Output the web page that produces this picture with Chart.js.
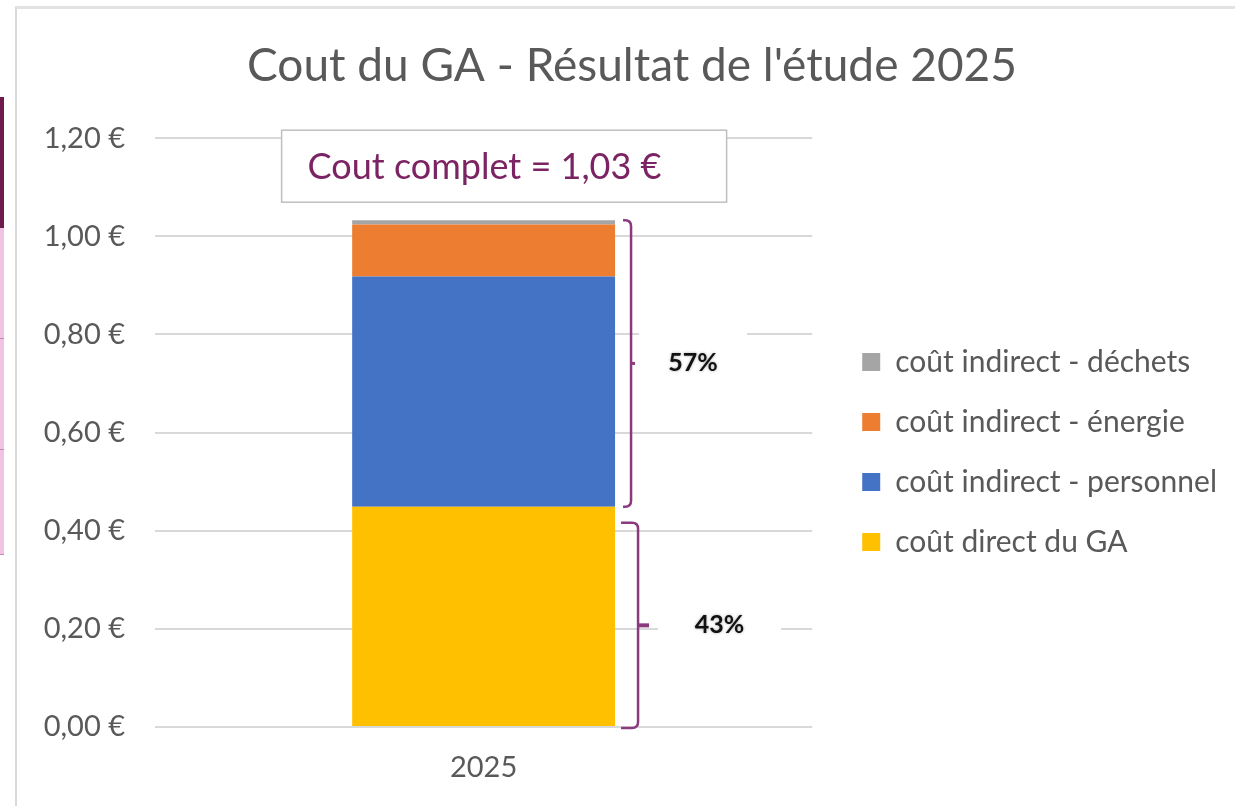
<!DOCTYPE html>
<html><head><meta charset="utf-8">
<script src="https://cdn.jsdelivr.net/npm/chart.js@4.4.1/dist/chart.umd.min.js"></script>
<style>
html,body{margin:0;padding:0;background:#fff;overflow:hidden;width:1235px;height:806px;}
#frame{position:absolute;left:15px;top:6px;width:1400px;height:900px;border-left:2px solid #d9d9d9;border-top:3px solid #e2e2e2;}
.strip{position:absolute;left:0;width:4px;}
.sline{position:absolute;left:0;width:4px;height:1px;background:#c88ab4;}
#wrap{position:absolute;left:0;top:0;width:1300px;height:806px;}
</style></head><body>
<div id="frame"></div>
<div class="strip" style="top:97px;height:131px;background:#6e1a4c"></div>
<div class="strip" style="top:228px;height:327px;background:#f1c3e3"></div>
<div class="sline" style="top:338px"></div>
<div class="sline" style="top:449px"></div>
<div class="sline" style="top:554px"></div>
<div id="wrap"><canvas id="c" width="1300" height="806"></canvas></div>
<script>
// ---------- data ----------
const categories = ['2025'];
const seriesLabels = ['coût direct du GA', 'coût indirect - personnel', 'coût indirect - énergie', 'coût indirect - déchets'];
const seriesColors = ['#FFC000', '#4472C4', '#ED7D31', '#A5A5A5'];
const directGA = [0.449];
const personnel = [0.469];
const energie = [0.106];
const dechets = [0.009];
const yTicks = [0, 0.2, 0.4, 0.6, 0.8, 1.0, 1.2];
const titleText = "Cout du GA - Résultat de l'étude 2025";
const totalLabelPrefix = 'Cout complet = ';

// ---------- layout ----------
const FONT = 'Lato';
const W = 1300;
const LEG_FONT = 30, LEG_BOX = 18, LEG_PAD = 30;
const mctx = document.createElement('canvas').getContext('2d');
mctx.font = 'normal ' + LEG_FONT + 'px ' + FONT;
const maxTxt = Math.max(...seriesLabels.map(t => mctx.measureText(t).width));
const legendW = Math.ceil(LEG_PAD + LEG_BOX + LEG_FONT / 2 + maxTxt + 10);
const GAP = 20;
const legLeft = 812 + GAP;
const padR = Math.max(0, W - legLeft - legendW);
const padL = Math.max(0, 2 * 632 - W + padR);
const yAxisW = 155 - padL;

const fmtEuro = v => v.toFixed(2).replace('.', ',') + ' €';
const series = [directGA, personnel, energie, dechets];

const annot = {
  id: 'annot',
  afterDatasetsDraw(chart) {
    const ctx = chart.ctx, y = chart.scales.y;
    const bar = chart.getDatasetMeta(0).data[0];
    const cx = bar.x, half = bar.width / 2, bR = cx + half;
    const direct = directGA[0];
    const total = series.reduce((s, a) => s + a[0], 0);
    const indirect = total - direct;
    const yTot = y.getPixelForValue(total), yDir = y.getPixelForValue(direct), y0 = y.getPixelForValue(0);
    const col = '#8B3A7E';
    function brace(xv, yTop, yBot, hook, tip, tipW) {
      const r = 6;
      ctx.save(); ctx.strokeStyle = col; ctx.lineWidth = 2.5; ctx.lineCap = 'butt';
      ctx.beginPath();
      ctx.moveTo(xv - hook, yTop); ctx.lineTo(xv - r, yTop);
      ctx.quadraticCurveTo(xv, yTop, xv, yTop + r);
      ctx.lineTo(xv, yBot - r);
      ctx.quadraticCurveTo(xv, yBot, xv - r, yBot);
      ctx.lineTo(xv - hook, yBot);
      ctx.stroke();
      const ym = (yTop + yBot) / 2;
      ctx.lineWidth = tipW;
      ctx.beginPath(); ctx.moveTo(xv, ym); ctx.lineTo(xv + tip, ym); ctx.stroke();
      ctx.restore();
      return ym;
    }
    function pct(text, left, w, ym) {
      ctx.save();
      ctx.fillStyle = '#fff';
      ctx.fillRect(left, ym - 32, w, 64);
      ctx.font = 'bold 25px ' + FONT;
      ctx.fillStyle = '#111';
      ctx.textAlign = 'center'; ctx.textBaseline = 'middle';
      ctx.shadowColor = 'rgba(0,0,0,0.35)'; ctx.shadowBlur = 3;
      ctx.fillText(text, left + w / 2, ym);
      ctx.restore();
    }
    // upper brace (indirect costs)
    const xu = bR + 16;
    const ymU = brace(xu, yTot, yDir, 8, 4, 3);
    pct(Math.round(indirect / total * 100) + '%', xu + 8, 108, ymU);
    // lower brace (direct cost)
    const xl = bR + 23;
    const ymL = brace(xl, yDir + 16, y0 + 1, 17, 11, 4);
    pct(Math.round(direct / total * 100) + '%', xl + 20, 123, ymL);
    // total box
    const top = y.getPixelForValue(yTicks[yTicks.length - 1]) - 8;
    const bx = cx - 202, bw = 445, bh = 72;
    ctx.save();
    ctx.fillStyle = '#fff'; ctx.fillRect(bx, top, bw, bh);
    ctx.strokeStyle = '#BFBFBF'; ctx.lineWidth = 1.5; ctx.strokeRect(bx, top, bw, bh);
    ctx.font = 'normal 36px ' + FONT;
    ctx.fillStyle = '#7B2363'; ctx.textAlign = 'left'; ctx.textBaseline = 'middle';
    ctx.fillText(totalLabelPrefix + fmtEuro(total), bx + 26, top + bh / 2 + 1);
    ctx.restore();
  }
};

new Chart(document.getElementById('c'), {
  type: 'bar',
  data: {
    labels: categories,
    datasets: series.map((d, i) => ({
      label: seriesLabels[i], data: d, backgroundColor: seriesColors[i], borderWidth: 0,
      categoryPercentage: 1, barPercentage: 0.4
    }))
  },
  options: {
    responsive: false, animation: false, devicePixelRatio: 1,
    layout: { padding: { left: padL, right: padR, top: 0, bottom: 20 } },
    plugins: {
      tooltip: { enabled: false },
      title: {
        display: true, text: titleText, color: '#595959',
        font: { family: FONT, size: 46, weight: 'normal' },
        padding: { top: 39, bottom: 44 }
      },
      legend: {
        position: 'right', fullSize: false, reverse: true, align: 'center', maxWidth: legendW,
        title: { display: true, text: '', font: { size: 1, lineHeight: 1 }, padding: { top: 38, bottom: 0 } },
        labels: {
          font: { family: FONT, size: LEG_FONT }, color: '#595959',
          boxWidth: LEG_BOX, boxHeight: LEG_BOX, padding: LEG_PAD
        }
      }
    },
    scales: {
      x: {
        stacked: true,
        grid: { display: false, drawTicks: false }, border: { display: false },
        ticks: { color: '#595959', font: { family: FONT, size: 29 }, padding: 23 },
        afterFit: s => { s.height = 59; }
      },
      y: {
        stacked: true, min: yTicks[0], max: yTicks[yTicks.length - 1],
        afterBuildTicks: s => { s.ticks = yTicks.map(v => ({ value: v })); },
        afterFit: s => { s.width = yAxisW; },
        grid: { color: '#D9D9D9', lineWidth: 2, drawTicks: false }, border: { display: false },
        ticks: { color: '#595959', font: { family: FONT, size: 29 }, padding: 30, callback: v => fmtEuro(v) }
      },
      gap: {
        position: 'right', display: true,
        grid: { display: false, drawTicks: false }, border: { display: false },
        ticks: { display: false },
        afterFit: s => { s.width = GAP; }
      }
    }
  },
  plugins: [annot]
});
</script>
</body></html>
